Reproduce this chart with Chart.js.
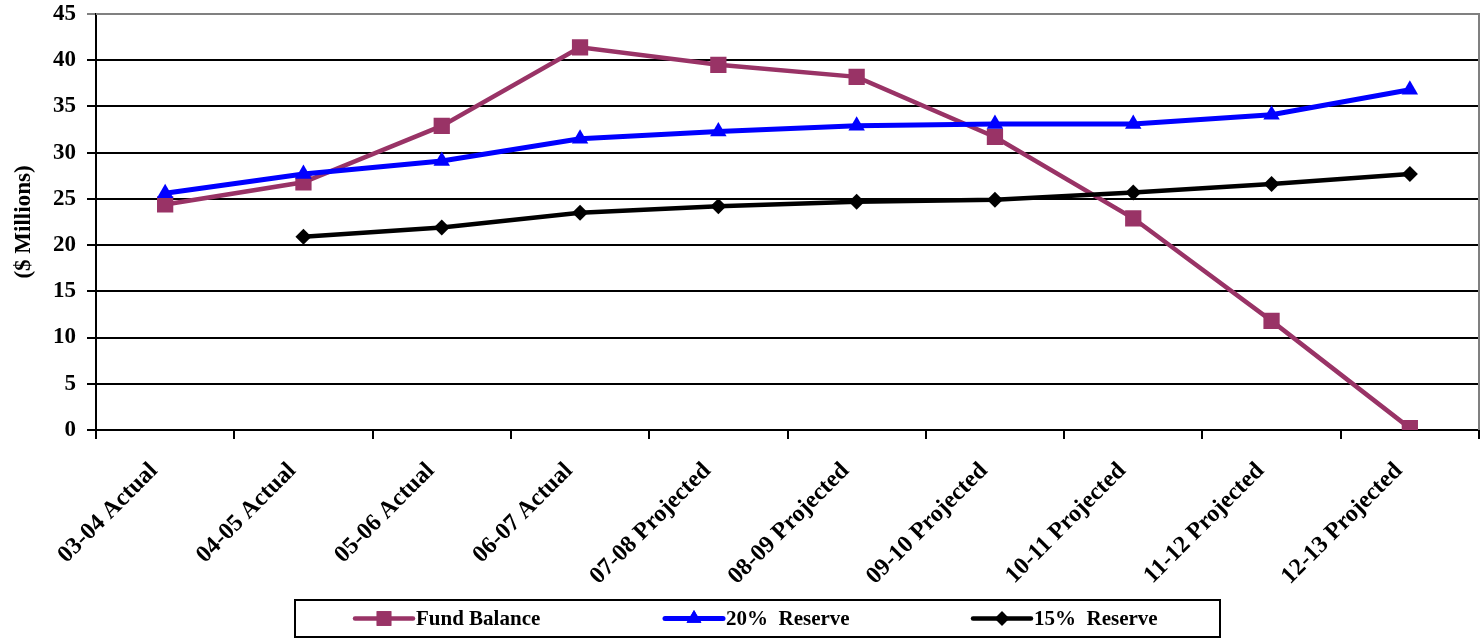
<!DOCTYPE html>
<html>
<head>
<meta charset="utf-8">
<title>Fund Balance vs Reserve</title>
<script src="https://cdn.jsdelivr.net/npm/chart.js@4.4.1/dist/chart.umd.min.js"></script>
<style>
  html, body { margin: 0; padding: 0; background: #ffffff; }
  #wrap { position: relative; width: 1481px; height: 639px; }
</style>
</head>
<body>
<div id="wrap"><canvas id="chart"></canvas></div>
<script>
// Fiscal years on the category axis
const categories = [
  '03-04 Actual', '04-05 Actual', '05-06 Actual', '06-07 Actual',
  '07-08 Projected', '08-09 Projected', '09-10 Projected',
  '10-11 Projected', '11-12 Projected', '12-13 Projected'
];

// Values in $ millions
const fundBalance = [24.4, 26.8, 32.9, 41.4, 39.5, 38.2, 31.7, 22.9, 11.8, 0.2];
const reserve20   = [25.6, 27.7, 29.1, 31.5, 32.3, 32.9, 33.1, 33.1, 34.1, 36.8];
const reserve15   = [null, 20.9, 21.9, 23.5, 24.2, 24.7, 24.9, 25.7, 26.6, 27.7];

const seriesNames = ['Fund Balance', '20%  Reserve', '15%  Reserve'];
const yTicks = { min: 0, max: 45, step: 5 };

const FONT = '"Liberation Serif", "Times New Roman", serif';

// Boxed legend drawn under the axis labels: line sample + marker + name
const boxedLegend = {
  id: 'boxedLegend',
  afterDraw(chart) {
    const ctx = chart.ctx;
    const box = { x: 295, y: 600, w: 925, h: 37 };
    ctx.save();
    ctx.lineWidth = 2;
    ctx.strokeStyle = '#000000';
    ctx.strokeRect(box.x, box.y, box.w, box.h);
    const cy = box.y + box.h / 2;
    const starts = [355, 665, 973];
    chart.data.datasets.forEach((ds, i) => {
      const x0 = starts[i];
      const x1 = x0 + 58;
      ctx.lineWidth = ds.borderWidth;
      ctx.strokeStyle = ds.borderColor;
      ctx.lineCap = 'round';
      ctx.beginPath();
      ctx.moveTo(x0, cy);
      ctx.lineTo(x1, cy);
      ctx.stroke();
      ctx.fillStyle = ds.pointBackgroundColor;
      Chart.helpers.drawPoint(ctx, {
        pointStyle: ds.pointStyle,
        radius: ds.pointRadius * 0.9,
        rotation: 0,
        borderWidth: 0
      }, (x0 + x1) / 2, cy);
      ctx.fill();
      ctx.fillStyle = '#000000';
      ctx.font = 'bold 21px ' + FONT;
      ctx.textAlign = 'left';
      ctx.textBaseline = 'middle';
      ctx.fillText(ds.label, x1 + 3, cy + 1);
    });
    ctx.restore();
  }
};

// Grey frame on the top and right edges of the plot area
const plotFrame = {
  id: 'plotFrame',
  beforeDatasetsDraw(chart) {
    const { ctx, chartArea: a } = chart;
    ctx.save();
    ctx.strokeStyle = '#808080';
    ctx.lineWidth = 2;
    ctx.beginPath();
    ctx.moveTo(a.left, a.top);
    ctx.lineTo(a.right, a.top);
    ctx.lineTo(a.right, a.bottom);
    ctx.stroke();
    ctx.restore();
  }
};

new Chart(document.getElementById('chart'), {
  type: 'line',
  data: {
    labels: categories,
    datasets: [
      {
        label: seriesNames[0],
        data: fundBalance,
        borderColor: '#993366',
        backgroundColor: '#993366',
        pointBackgroundColor: '#993366',
        pointBorderColor: '#993366',
        pointStyle: 'rect',
        pointRadius: 11.5,
        pointBorderWidth: 0,
        borderWidth: 4.5,
        order: 3
      },
      {
        label: seriesNames[1],
        data: reserve20,
        borderColor: '#0000ff',
        backgroundColor: '#0000ff',
        pointBackgroundColor: '#0000ff',
        pointBorderColor: '#0000ff',
        pointStyle: 'triangle',
        pointRadius: 9.5,
        pointBorderWidth: 0,
        borderWidth: 5,
        order: 2
      },
      {
        label: seriesNames[2],
        data: reserve15,
        borderColor: '#000000',
        backgroundColor: '#000000',
        pointBackgroundColor: '#000000',
        pointBorderColor: '#000000',
        pointStyle: 'rectRot',
        pointRadius: 8,
        pointBorderWidth: 0,
        borderWidth: 4.5,
        order: 1
      }
    ]
  },
  options: {
    responsive: true,
    maintainAspectRatio: false,
    animation: false,
    spanGaps: false,
    layout: { autoPadding: false, padding: { top: 14, right: 2, left: 0, bottom: 0 } },
    elements: { line: { tension: 0 } },
    plugins: {
      legend: { display: false },
      tooltip: { enabled: false }
    },
    scales: {
      x: {
        type: 'category',
        offset: true,
        afterFit(scale) {
          scale.height = 209;
          scale.paddingLeft = 0;
          scale.paddingRight = 0;
        },
        grid: {
          offset: true,
          drawOnChartArea: false,
          drawTicks: true,
          tickLength: 9,
          color: '#000000',
          lineWidth: 2
        },
        border: { display: true, color: '#000000', width: 2 },
        ticks: {
          autoSkip: false,
          maxRotation: 45,
          minRotation: 45,
          padding: 18,
          labelOffset: -11,
          color: '#000000',
          font: { family: FONT, size: 24, weight: 'bold' }
        }
      },
      y: {
        min: yTicks.min,
        max: yTicks.max,
        afterFit(scale) {
          scale.width = 96;
          scale.paddingTop = 0;
          scale.paddingBottom = 0;
        },
        grid: {
          color: (c) => (c.tick && c.tick.value === yTicks.max ? '#808080' : '#000000'),
          lineWidth: 2,
          drawTicks: true,
          tickLength: 9
        },
        border: { display: true, color: '#000000', width: 2 },
        ticks: {
          stepSize: yTicks.step,
          padding: 11,
          color: '#000000',
          font: { family: FONT, size: 23, weight: 'bold' }
        },
        title: {
          display: true,
          text: '($ Millions)',
          color: '#000000',
          padding: { top: 10, bottom: 0 },
          font: { family: FONT, size: 23, weight: 'bold' }
        }
      }
    }
  },
  plugins: [plotFrame, boxedLegend]
});
</script>
</body>
</html>
